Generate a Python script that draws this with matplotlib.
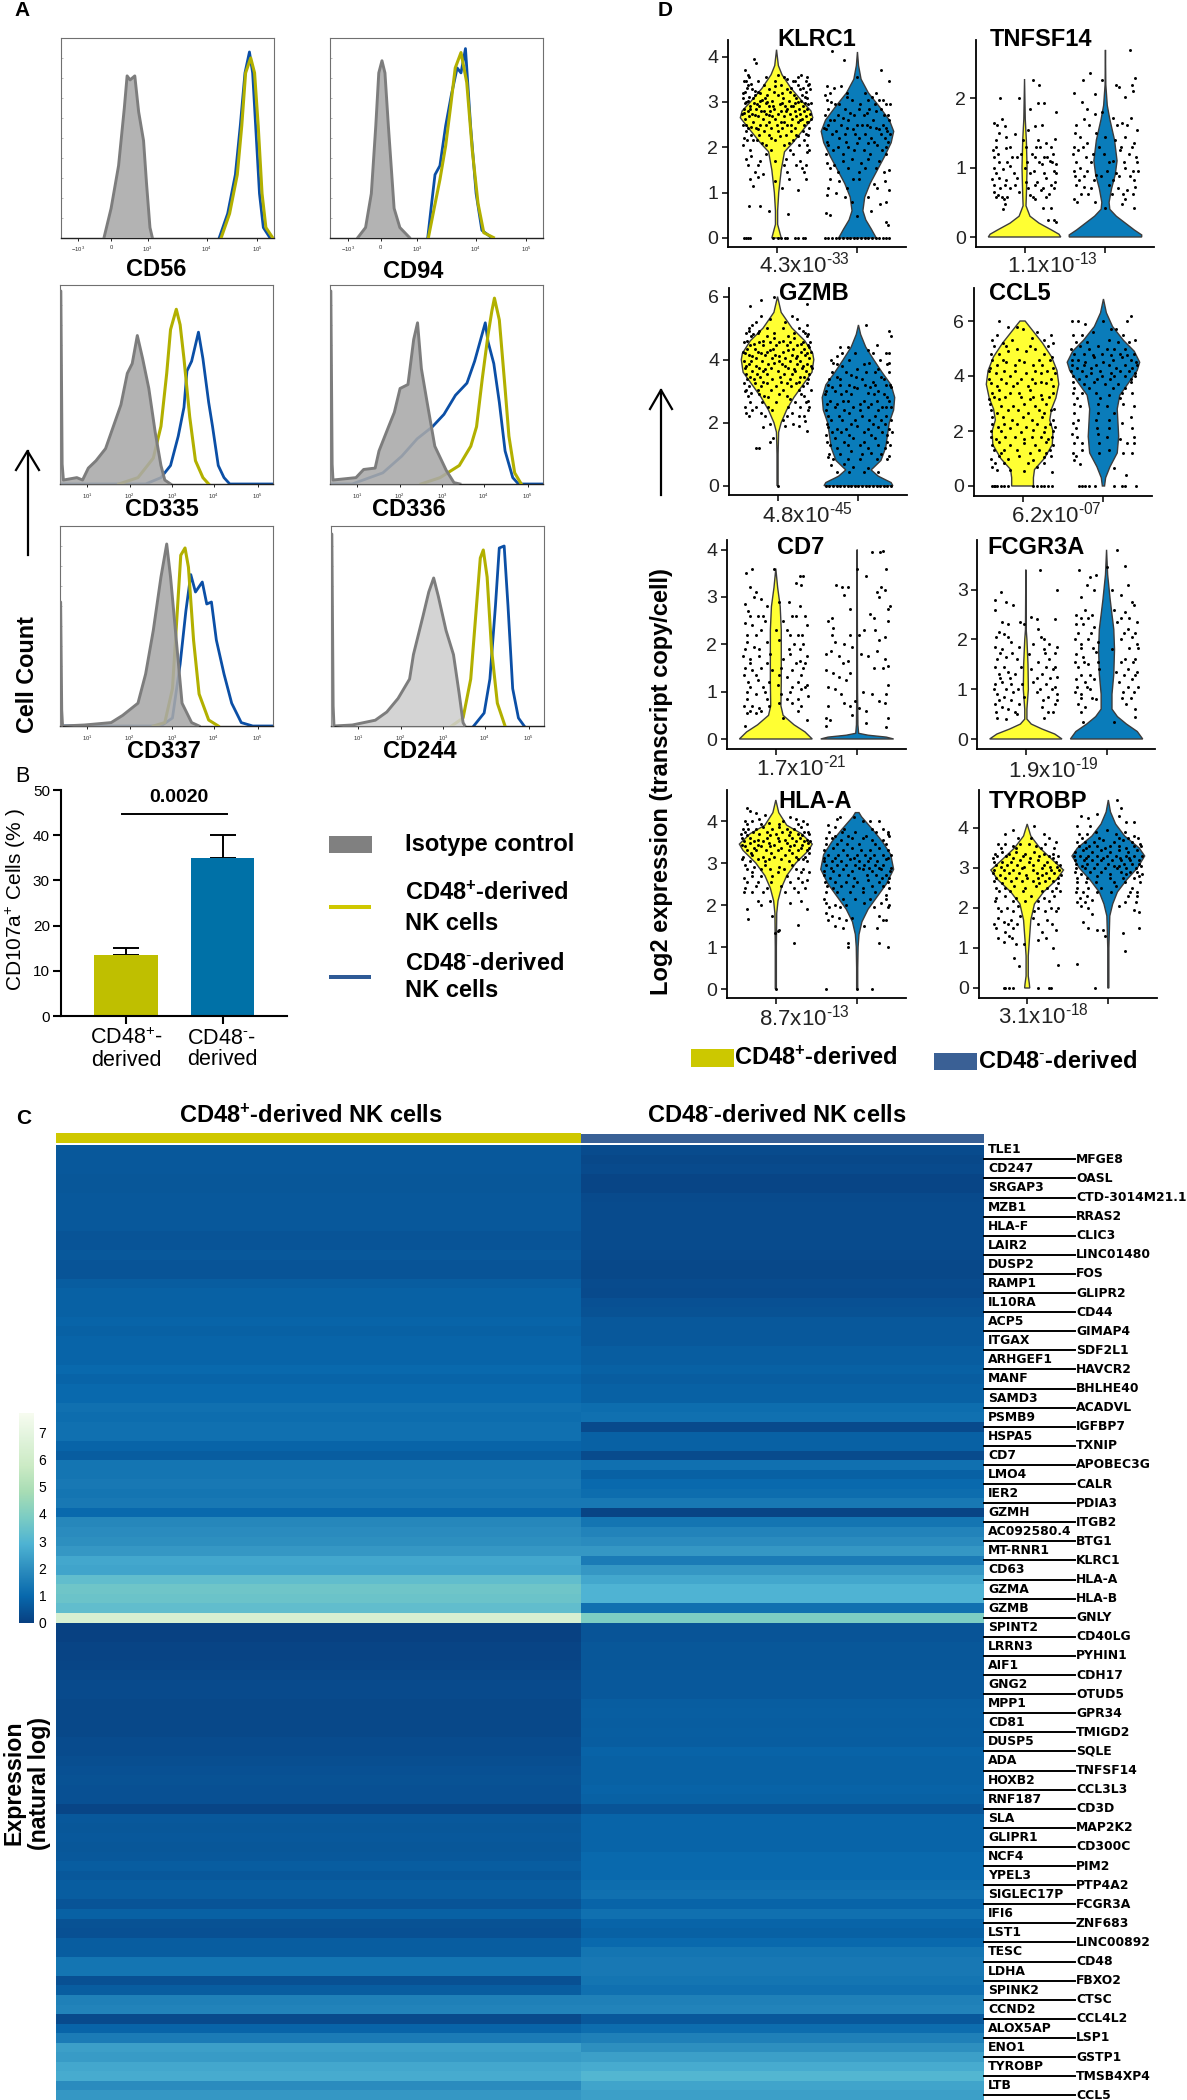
import numpy as np
import matplotlib
matplotlib.use("Agg")
import matplotlib.pyplot as plt
from matplotlib.lines import Line2D
from matplotlib.patches import Rectangle

plt.rcParams['font.family'] = ['Liberation Sans', 'DejaVu Sans']
plt.rcParams['mathtext.fontset'] = 'custom'
plt.rcParams['mathtext.rm'] = 'Liberation Sans'
plt.rcParams['mathtext.bf'] = 'Liberation Sans:bold'
plt.rcParams['mathtext.default'] = 'regular'

# ---------------- Panel A: flow histograms (channel, % of frame height) ----------------
CD56_gray = ([204,237,272,299,312,326,348,366,389,403,419,430],[0,14.6,36,65,81,79,81,63,48.5,27,5,0])
CD56_yel = ([753,792,828,849,867,891,909,926,944,962,993],[0,12,31.5,56,82.5,90,82.5,56,22,5,0])
CD56_blu = ([744,783,819,842,864,885,900,914,932,950,980],[0,12,31.5,56,82.5,93,82.5,56,22,5,0])
CD94_gray = ([131,167,194,215,229,244,258,274,301,328,373],[0,5,22,56,82.5,88.6,82.5,56,14.6,5,0])
CD94_yel = ([462,489,516,543,566,588,615,642,668,695,722,767],[0,14.6,29,46,65.5,85,92.7,77.7,43.7,17,2.4,0])
CD94_blu = ([459,477,493,516,543,570,597,615,636,660,686,713,758],[0,17,31.5,36,56,71.6,85,82.5,94.7,56,22,3.6,0])
CD335_gray = ([0,4,10,16,79,106,133,169,214,250,286,316,339,363,388,417,447,474,492,519],
              [97,97,10,2,3.2,2,8,11.7,17.8,28.8,39.8,55.6,60.5,74.6,63,48,26,9.3,2,0])
CD335_yel = ([276,366,438,474,501,519,546,564,582,609,636,671,698],[0,3.2,13,29,55.6,77.6,87.8,80,63,33.7,11.7,3.2,0])
CD335_blu = ([0,402,474,519,555,582,596,618,650,671,698,716,743,770,797,1000],[0,0,3.2,9.3,24,38.5,56.8,61.7,76.3,63,41,29,9.3,3.2,0,0])
CD336_gray = ([0,4,10,14,122,158,212,230,275,302,329,366,393,411,429,456,492,546,582,610],
              [97,97,10,2,3.2,7.3,8,16.6,28.8,36,48,50,72.7,81,58,41,19,6.8,0.7,0])
CD336_yel = ([427,517,607,661,688,715,742,760,772,795,822,840,867,898],[0,3.2,9.3,19,28.8,53,75,87,93.4,82.4,48,24,5.6,0])
CD336_blu = ([0,104,248,337,409,481,535,589,643,679,729,742,769,795,822,858,885,1000],
             [0,0,5.6,14,22.7,28.8,35,44.6,50.7,61.7,81,71.5,60.5,41,16.6,3.2,0,0])
CD337_gray = ([0,3,8,12,115,240,294,366,402,438,474,501,519,546,573,618,653],
              [62,62,8,0,0.5,1.7,5.3,11.4,26,47.8,74.5,91,74.5,43,11.4,1.7,0])
CD337_yel = ([438,492,528,555,567,587,603,627,653,698,743],[0,1.7,18.7,64.8,85.4,89,79.4,43,16,3,0])
CD337_blu = ([0,474,528,564,591,614,636,668,689,711,734,770,806,851,905,1000],[0,0,4,31,57.5,75.7,67,72,61,62,43,26,11.4,1.7,0,0])
CD244_gray = ([0,4,10,14,100,208,262,315,369,387,432,459,482,504,540,575,602,620,629],
              [96,96,10,0,0.5,2.9,7,13.8,23.5,35.7,55,67,74,64.8,47.8,35.7,16,1.7,0])
CD244_yel = ([566,620,656,683,701,715,733,754,781,817],[0,4,23.5,60,84,88,74.5,38,11.4,0])
CD244_blu = ([670,719,746,772,790,813,831,853,880,907],[0,6.5,23.5,60,89,90,60,18.7,4,0])
BIEX_TICKS = [83, 238, 408, 684, 922]
BIEX_LABELS = ['$-10^{3}$', '0', '$10^{3}$', '$10^{4}$', '$10^{5}$']
LOG_TICKS = [129, 327, 528, 722, 928]
LOG_LABELS = ['$10^{1}$', '$10^{2}$', '$10^{3}$', '$10^{4}$', '$10^{5}$']

# ---------------- Panel B ----------------
BAR_LABELS = ['CD48$^{+}$-\nderived', 'CD48$^{\\text{-}}$-\nderived']
BAR_MEAN = [13.4, 35.0]
BAR_UPPER = [15.0, 40.0]
BAR_P = '0.0020'

# ---------------- Panel C: mean expression per gene row, per group ----------------
GENES_LEFT = ['TLE1','CD247','SRGAP3','MZB1','HLA-F','LAIR2','DUSP2','RAMP1','IL10RA','ACP5','ITGAX','ARHGEF1','MANF','SAMD3','PSMB9','HSPA5','CD7','LMO4','IER2','GZMH','AC092580.4','MT-RNR1','CD63','GZMA','GZMB',
              'SPINT2','LRRN3','AIF1','GNG2','MPP1','CD81','DUSP5','ADA','HOXB2','RNF187','SLA','GLIPR1','NCF4','YPEL3','SIGLEC17P','IFI6','LST1','TESC','LDHA','SPINK2','CCND2','ALOX5AP','ENO1','TYROBP','LTB']
GENES_RIGHT = ['MFGE8','OASL','CTD-3014M21.1','RRAS2','CLIC3','LINC01480','FOS','GLIPR2','CD44','GIMAP4','SDF2L1','HAVCR2','BHLHE40','ACADVL','IGFBP7','TXNIP','APOBEC3G','CALR','PDIA3','ITGB2','BTG1','KLRC1','HLA-A','HLA-B','GNLY',
               'CD40LG','PYHIN1','CDH17','OTUD5','GPR34','TMIGD2','SQLE','TNFSF14','CCL3L3','CD3D','MAP2K2','CD300C','PIM2','PTP4A2','FCGR3A','ZNF683','LINC00892','CD48','FBXO2','CTSC','CCL4L2','LSP1','GSTP1','TMSB4XP4','CCL5']
EXPR_POS = [.6,.6,.6,.55,.55,.6,.6,.6,.6,.5,.5,.6,.5,.5,.7,.8,.8,.8,.9,.8,.9,.9,.9,1,.9,1,1,1.2,1.1,1.2,1.2,.9,.7,1.3,1.3,1.4,1.3,1.4,1.0,1.8,1.9,2.0,2.2,2.6,2.5,3.3,3.6,3.5,3.3,6.3,
            .05,.05,.1,.1,.15,.2,.25,.25,.2,.2,.2,.2,.3,.3,.35,.4,.45,.4,.4,.15,.6,.55,.6,.55,.6,.7,.6,.7,.7,.5,.8,.45,.4,.7,.7,1.3,1.3,.4,.7,1.6,1.7,.25,.9,1.5,2.4,2.3,2.6,2.7,1.9,2.2]
EXPR_NEG = [.3,.2,.25,.15,.15,.25,.3,.3,.3,.3,.3,.25,.2,.2,.3,.25,.4,.45,.6,.6,.6,.7,.7,.8,.7,.8,.8,1.1,1.2,.25,.8,.8,.3,1.2,.8,1.0,1.1,1.4,.1,1.3,1.7,1.9,2.2,1.5,2.2,2.6,2.9,2.9,1.2,3.9,
            .5,.5,.55,.55,.55,.6,.6,.6,.7,.75,.7,.75,.7,.85,.8,.8,.8,.85,.8,.5,.9,.9,.9,.9,1,1,1,1.1,1.2,.9,1.2,.9,.8,1.0,1.3,1.4,1.4,1.3,1.2,1.6,1.7,.6,1.1,1.6,2.0,2.4,2.7,3.0,2.5,2.4]
GROUP_CELLS = [525, 403]
GROUP_NAMES = ['CD48$^{+}$-derived NK cells', 'CD48$^{\\text{-}}$-derived NK cells']
CBAR_TICKS = [0,1,2,3,4,5,6,7]

# ---------------- Panel D: violin outlines (expression, relative half width) ----------------
V_KLRC1_P = ([4.15,3.8,3.6,3.3,3.0,2.8,2.65,2.4,2.1,1.9,1.5,1.0,.6,.3,.15,0],[0,.05,.15,.4,.72,.95,1,.75,.45,.22,.13,.06,.03,.03,.08,.13])
V_KLRC1_N = ([4.1,3.8,3.5,3.2,2.9,2.6,2.35,2.1,1.8,1.5,1.2,.9,.6,.4,.2,0],[0,.03,.1,.3,.6,.88,1,.93,.75,.55,.35,.2,.15,.23,.38,.52])
V_TNFSF14_P = ([2.28,1.7,1.4,1.0,.6,.45,.3,.2,.1,.04,0],[0,.02,.05,.07,.05,.04,.15,.4,.75,.95,1])
V_TNFSF14_N = ([2.7,2.2,1.9,1.7,1.4,1.1,.9,.7,.5,.4,.3,.2,.1,.03,0],[0,.01,.05,.12,.25,.32,.27,.17,.1,.12,.3,.55,.8,1,1])
V_GZMB_P = ([6,5.5,5,4.6,4.2,4,3.6,3.2,2.8,2.4,2,1.7,1,0],[0,.1,.4,.75,.97,1,.95,.7,.45,.25,.1,.03,.015,.015])
V_GZMB_N = ([5.1,4.8,4.4,4,3.6,3.2,2.8,2.4,2,1.6,1.2,.8,.5,.3,.1,0],[0,.06,.2,.42,.65,.9,1,.97,.85,.8,.75,.62,.35,.55,.9,.95])
V_CCL5_P = ([6,5.7,5.2,4.7,4.2,3.7,3.2,2.8,2.4,2,1.5,1,.6,.3,0],[.07,.25,.55,.8,.95,1,.92,.8,.75,.84,.82,.6,.33,.3,.3])
V_CCL5_N = ([6.8,6.3,5.8,5.3,4.9,4.5,4.2,3.8,3.3,2.8,2.3,1.8,1.2,.7,.3,0],[0,.08,.25,.55,.85,1,.93,.72,.45,.38,.4,.42,.38,.18,.06,.03])
V_CD7_P = ([3.6,3.2,2.8,2.3,1.8,1.2,.7,.5,.3,.15,0],[0,.05,.12,.15,.15,.15,.14,.2,.5,.8,1])
V_CD7_N = ([4,1,.3,.12,.08,.04,0],[0,.01,.02,.04,.3,.8,1])
V_FCGR3A_P = ([3.4,2.2,2,1.5,1,.6,.4,.3,.2,.1,0],[0,.01,.03,.06,.07,.03,.03,.15,.45,.8,1])
V_FCGR3A_N = ([3.8,3.3,2.8,2.2,1.8,1.3,.9,.6,.45,.3,.15,0],[0,.03,.1,.2,.22,.2,.15,.15,.3,.55,.85,1])
V_HLAA_P = ([4.5,4.2,3.9,3.7,3.45,3.3,3,2.7,2.4,2.1,1.8,1,0],[0,.08,.3,.7,1,.9,.55,.3,.15,.06,.025,.015,.015])
V_HLAA_N = ([4.2,4.1,3.8,3.5,3.2,2.85,2.5,2.2,1.9,1.6,1.3,1,.5,0],[.05,.12,.42,.7,.92,1,.8,.55,.3,.13,.05,.025,.015,.015])
V_TYROBP_P = ([4.1,3.8,3.5,3.2,2.95,2.7,2.4,2.1,1.7,1.2,.8,.3,.1,0],[0,.1,.35,.7,1,.8,.45,.2,.1,.06,.03,.03,.06,.07])
V_TYROBP_N = ([4.7,4.4,4.1,3.8,3.5,3.3,3,2.7,2.4,2.1,1.8,1,0],[0,.06,.2,.45,.85,1,.8,.5,.25,.12,.04,.015,.015])

# Cell dots: (horizontal offset in % of max half width, expression)
P_KLRC1_P = [(-90,0),(-85,0),(-78,0),(-72,0),(-10,0),(5,0),(12,0),(22,0),(30,0),(50,0),(58,0),(72,0),(78,0),(-62,3.95),(-56,3.85),(-88,3.7),(-80,3.6),(-90,3.45),(-70,3.4),(-82,3.3),(-60,3.25),(-92,3.2),(-45,3.2),(-75,3.1),(-40,3.05),(-85,3.0),(-55,2.95),(-25,3.0),(-72,2.85),(-35,2.8),(-10,2.9),(-90,2.75),(-60,2.7),(-20,2.7),(10,2.95),(25,2.8),(45,2.9),(60,3.0),(72,3.3),(85,3.55),(68,3.6),(50,3.45),(40,3.3),(78,3.1),(90,3.4),(88,2.95),(30,3.5),(5,3.6),(-5,3.35),(15,3.2),(-30,2.5),(-70,2.45),(-50,2.4),(-85,2.5),(0,2.5),(20,2.55),(40,2.5),(65,2.6),(85,2.55),(-90,2.2),(-65,2.15),(-40,2.1),(-15,2.2),(10,2.25),(35,2.1),(60,2.25),(80,2.3),(-85,1.75),(-70,1.8),(-45,1.7),(-30,1.85),(-5,1.7),(25,1.75),(45,1.85),(65,1.7),(85,1.9),(-72,1.3),(-65,1.15),(-50,1.35),(-38,1.4),(15,1.1),(35,1.3),(60,1.05),(82,1.3),(70,1.55),(-3,1.25),(-75,.7),(-45,.7),(-22,.6),(32,.53)]
P_KLRC1_N = [(-90,0),(-80,0),(-70,0),(-60,0),(-50,0),(-40,0),(-30,0),(-20,0),(-10,0),(0,0),(10,0),(20,0),(30,0),(40,0),(50,0),(60,0),(70,0),(80,0),(88,0),(-70,4.12),(-36,3.93),(64,3.7),(88,3.45),(-85,3.35),(-65,3.3),(-45,3.35),(-90,3.15),(-72,3.0),(-50,2.95),(-28,3.1),(0,3.55),(20,3.2),(40,3.1),(60,3.05),(78,2.95),(85,2.7),(50,2.8),(25,2.75),(5,2.85),(-20,2.75),(-40,2.65),(-75,2.6),(-88,2.4),(-60,2.35),(-35,2.3),(-12,2.4),(12,2.5),(35,2.45),(60,2.4),(82,2.35),(-82,2.05),(-55,2.0),(-25,2.0),(0,2.1),(28,2.1),(55,2.05),(80,2.0),(-85,1.65),(-65,1.6),(-40,1.7),(-15,1.75),(10,1.65),(30,1.75),(60,1.7),(86,1.5),(-75,1.3),(-50,1.25),(-12,1.3),(5,1.3),(45,1.2),(75,1.25),(88,1.05),(-85,.95),(-60,1.0),(-35,.9),(-15,.8),(30,.9),(62,.75),(80,.8),(-88,.55),(-75,.5),(0,.48),(37,.6),(78,.35),(84,.28)]
P_TNFSF14_P = [(-69,2.0),(-14,2.0),(22,2.27),(41,2.2),(37,1.93),(54,1.93),(15,1.85),(87,1.8),(-85,1.65),(-75,1.62),(-62,1.7),(-55,1.6),(-70,1.5),(-50,1.45),(-80,1.4),(-25,1.48),(-5,1.4),(10,1.55),(30,1.6),(48,1.62),(38,1.4),(60,1.35),(85,1.42),(-88,1.25),(-72,1.2),(-52,1.28),(-35,1.15),(-10,1.2),(20,1.2),(42,1.3),(55,1.15),(78,1.2),(88,1.05),(-85,1.0),(-60,.98),(-40,1.02),(0,1.0),(25,.95),(48,1.05),(70,1.1),(82,.95),(-90,.83),(-70,.85),(-50,.82),(-20,.85),(5,.8),(35,.8),(60,.85),(85,.8),(-85,.65),(-72,.6),(-58,.55),(-15,.65),(15,.6),(45,.68),(68,.62),(-60,.4),(-55,.48),(30,.55),(50,.42),(72,.42),(82,.25),(88,.22),(65,.24)]
P_TNFSF14_N = [(69,2.7),(-43,2.37),(-62,2.27),(-10,2.27),(-86,2.08),(-29,2.06),(29,2.2),(38,2.17),(72,2.2),(82,2.29),(53,2.02),(77,2.1),(-65,1.95),(-50,1.85),(-60,1.7),(-30,1.78),(-10,1.8),(20,1.72),(45,1.65),(70,1.72),(88,1.55),(-85,1.5),(-70,1.45),(-50,1.35),(-25,1.5),(0,1.45),(25,1.4),(55,1.45),(80,1.35),(-90,1.2),(-75,1.25),(-55,1.15),(-35,1.2),(-5,1.2),(20,1.1),(40,1.25),(65,1.2),(85,1.15),(-88,.95),(-70,1),(-50,.95),(-25,.9),(5,.95),(30,.92),(55,1),(75,.95),(90,.95),(-80,.75),(-60,.72),(-40,.7),(10,.75),(35,.7),(60,.68),(82,.72),(-88,.55),(-78,.5),(-30,.5),(0,.42),(45,.48),(55,.55),(80,.42)]
P_GZMB_P = [(-75,5.7),(-45,5.9),(-10,6),(82,5.75),(60,5.95),(-70,5.1),(-68,4.8),(-60,5.2),(-45,5.4),(-80,4.9),(-50,4.9),(-20,5.3),(20,5.2),(40,5.4),(55,5.3),(80,5.1),(85,4.8),(70,4.9),(-85,4.6),(-65,4.5),(-40,4.6),(-10,4.7),(15,4.6),(45,4.7),(65,4.5),(88,4.4),(-90,4.2),(-70,4.1),(-45,4.2),(-20,4.3),(5,4.1),(30,4.3),(55,4.1),(80,4.2),(-88,3.8),(-60,3.8),(-35,3.7),(-10,3.9),(20,3.8),(45,3.7),(70,3.8),(92,3.8),(-85,3.4),(-65,3.4),(-40,3.3),(-15,3.4),(10,3.3),(35,3.4),(60,3.3),(85,3.4),(-90,3),(-72,2.95),(-50,2.9),(-25,2.8),(5,2.9),(35,2.75),(65,2.9),(85,2.7),(-88,2.3),(-70,2.4),(-45,2.3),(-15,2.4),(15,2.1),(40,2.3),(60,2.2),(85,2.4),(75,2.05),(-40,1.85),(-20,1.95),(20,1.9),(42,1.95),(60,1.9),(82,1.75),(-22,1.4),(-12,1.5),(-60,1.2),(-52,1.2),(0,0)]
P_GZMB_N = [(20,5.1),(85,4.9),(90,4.75),(-50,4.4),(-30,4.4),(-60,4.1),(-10,4.2),(25,4.3),(50,4.45),(75,4.2),(85,3.9),(-70,3.9),(-45,3.8),(-5,3.7),(30,3.9),(55,3.7),(-80,3.4),(-50,3.4),(-20,3.5),(10,3.4),(40,3.3),(70,3.4),(88,3.2),(-90,3.0),(-65,3),(-35,3),(-5,3.1),(25,2.95),(55,3),(80,2.8),(-88,2.6),(-60,2.6),(-30,2.7),(5,2.6),(35,2.6),(65,2.5),(90,2.5),(-85,2.2),(-55,2.2),(-25,2.3),(10,2.2),(45,2.2),(75,2.2),(-85,1.85),(-60,1.8),(-35,1.8),(-5,1.9),(25,1.8),(55,1.85),(85,1.8),(-88,1.4),(-65,1.5),(-40,1.4),(-15,1.5),(15,1.4),(45,1.5),(80,1.4),(-80,1.0),(-50,1.0),(-20,1.1),(10,1),(35,1.05),(62,1),(85,.95),(-75,.65),(-40,.7),(-15,.6),(25,.55),(-85,.9),(-90,0),(-80,0),(-70,0),(-60,0),(-50,0),(-40,0),(-30,0),(-20,0),(-10,0),(0,0),(10,0),(20,0),(30,0),(40,0),(50,0),(60,0),(70,0),(80,0),(90,0)]
P_CCL5_P = [(-85,0),(-80,0),(-75,0),(-70,0),(-60,0),(-50,0),(-40,0),(30,0),(40,0),(50,0),(60,0),(70,0),(80,0),(-65,6),(-40,5.8),(-15,5.8),(-85,5.3),(-70,5.5),(-55,5.2),(-30,5.3),(0,5.7),(25,5.4),(40,5.6),(60,5.3),(78,5.5),(85,5.2),(-88,4.8),(-65,4.8),(-40,4.9),(-15,5),(10,4.9),(35,5),(60,4.8),(80,4.7),(-90,4.3),(-70,4.4),(-45,4.5),(-20,4.4),(5,4.5),(30,4.4),(55,4.4),(85,4.3),(-92,3.9),(-60,3.9),(-35,4),(-5,3.9),(25,3.9),(50,3.8),(78,3.9),(-85,3.4),(-65,3.5),(-35,3.4),(-10,3.4),(20,3.5),(50,3.3),(85,3.4),(-90,3),(-60,2.9),(-25,2.9),(5,3),(35,2.9),(65,3),(88,2.8),(-85,2.5),(-55,2.5),(-30,2.4),(0,2.5),(25,2.4),(55,2.5),(85,2.4),(-88,2),(-60,2),(-35,2.1),(-5,1.95),(30,2.05),(60,1.95),(85,2),(-85,1.5),(-65,1.6),(-35,1.5),(5,1.55),(35,1.5),(65,1.6),(85,1.5),(-88,1),(-65,1.1),(-40,1),(-10,1.1),(30,.95),(60,1.05),(78,1.1),(-85,.7),(-70,.6),(-35,.6),(5,.55),(40,.7),(82,.5)]
P_CCL5_N = [(-88,6.0),(-70,6),(-50,5.9),(0,6),(22,5.7),(65,6),(75,6.2),(-85,5.5),(-60,5.5),(-30,5.6),(15,5.3),(35,5.7),(55,5.5),(-90,5),(-65,5.1),(-40,5),(-15,5.1),(10,5),(30,5),(60,5),(88,5.3),(-88,4.6),(-70,4.6),(-50,4.5),(-25,4.7),(0,4.5),(25,4.6),(50,4.7),(75,4.6),(90,4.5),(-90,4.2),(-60,4.2),(-35,4.1),(-10,4.2),(20,4.1),(45,4.2),(70,4.2),(88,4.1),(-85,3.8),(-55,3.7),(-25,3.8),(5,3.7),(40,3.7),(75,3.8),(-85,3.4),(-60,3.4),(-20,3.4),(15,3.3),(50,3.4),(80,3.4),(-80,3),(-65,2.9),(-15,3),(10,2.9),(55,3),(85,2.9),(-85,2.3),(-70,2.4),(-20,2.4),(15,2.4),(50,2.3),(75,2.5),(-88,1.9),(-72,1.8),(-15,1.9),(10,1.8),(45,1.7),(85,1.8),(-85,1.2),(-75,1.1),(-60,1.3),(-12,1.2),(15,1.3),(55,1.2),(78,1.2),(-82,.95),(-65,.8),(30,.65),(62,.4),(-68,0),(-60,0),(-50,0),(-40,0),(-22,0),(30,0),(50,0),(60,0),(90,0)]
P_CD7_P = [(-82,3.5),(-65,3.58),(-5,3.6),(75,3.45),(65,3.45),(-70,3.2),(-55,3.1),(70,3.25),(55,3.3),(-60,3.0),(-40,2.95),(-85,2.85),(-25,2.8),(10,2.9),(35,2.9),(65,2.8),(-75,2.7),(-50,2.6),(-85,2.45),(-65,2.4),(-30,2.5),(20,2.5),(45,2.6),(80,2.6),(-55,2.2),(-40,2.3),(0,2.3),(30,2.3),(60,2.2),(85,2.4),(-80,2.05),(-60,1.95),(-25,2.05),(10,2.1),(50,2),(75,2),(-90,1.75),(-70,1.7),(-45,1.75),(-15,1.8),(20,1.7),(40,1.8),(65,1.65),(85,1.75),(-85,1.5),(-65,1.45),(-40,1.5),(-10,1.45),(15,1.5),(45,1.45),(75,1.5),(-75,1.2),(-50,1.25),(-20,1.2),(5,1.15),(30,1.3),(60,1.2),(85,1.15),(-80,1.0),(-55,.95),(-30,1),(15,.95),(40,1),(70,1.05),(88,.9),(-88,.7),(-65,.7),(-45,.65),(-20,.7),(10,.75),(45,.75),(70,.7),(-80,.55),(-55,.55),(20,.45),(85,.4),(-85,.28)]
P_CD7_N = [(40,3.95),(62,3.95),(72,3.98),(0,3.6),(80,3.6),(25,3.45),(-57,3.25),(-42,3.2),(-35,3.05),(-25,3.2),(-20,2.75),(55,3.1),(65,3.2),(75,3.15),(60,3),(90,2.8),(85,2.75),(-80,2.5),(-70,2.55),(-65,2.35),(35,2.65),(45,2.55),(85,2.5),(-35,2.0),(-20,2.2),(-70,2.2),(-15,1.95),(5,2.2),(20,2.3),(50,2.3),(60,2.1),(75,2.15),(-60,2.05),(-85,1.8),(-72,1.85),(-50,1.75),(-40,1.6),(-25,1.65),(10,1.8),(30,1.75),(55,1.85),(75,1.7),(85,1.55),(-85,1.45),(-65,1.4),(-50,1.3),(-30,1.25),(-20,1.4),(45,1.5),(70,1.5),(-80,1.1),(-60,1.05),(-45,.95),(15,1.0),(40,.95),(85,1.15),(80,.95),(-35,.75),(-20,.7),(-5,.8),(5,.65),(25,.6),(60,.8),(-85,.45),(-80,.7),(-75,.4),(-15,.5),(25,.33),(75,.75),(85,.45),(80,.25),(-85,.28)]
P_FCGR3A_P = [(40,3.4),(-70,2.95),(-85,2.8),(-55,2.75),(-35,2.7),(-85,2.6),(85,3),(15,2.45),(30,2.4),(-65,2.35),(-50,2.3),(-15,2.35),(-5,2.3),(80,2.4),(-75,2.15),(-60,2.1),(35,2.2),(50,2),(-85,1.85),(-65,1.8),(-40,1.95),(-20,1.85),(20,1.9),(50,1.8),(65,1.9),(85,1.85),(-80,1.6),(-55,1.65),(-25,1.6),(10,1.7),(35,1.55),(65,1.6),(-75,1.3),(-50,1.35),(-30,1.3),(15,1.4),(45,1.3),(75,1.4),(85,1.25),(-85,1.1),(-65,1.15),(-40,1.1),(-10,1.1),(20,1.15),(55,1.1),(80,1.05),(-80,.9),(-60,.85),(-35,.95),(-5,.85),(30,.95),(60,.85),(85,.9),(-85,.7),(-65,.65),(-50,.6),(-20,.7),(45,.65),(75,.55),(80,.7),(-80,.42),(-55,.4),(50,.42),(-25,.5)]
P_FCGR3A_N = [(30,3.8),(-75,3.4),(0,3.45),(50,3.47),(-30,3.3),(-45,3.25),(-55,3.1),(-35,3),(-70,2.85),(15,3),(40,2.9),(60,3.1),(70,2.75),(-85,2.5),(-60,2.6),(-40,2.5),(20,2.6),(50,2.55),(75,2.7),(85,2.35),(-85,2.3),(-65,2.3),(-35,2.25),(30,2.35),(60,2.2),(-88,2),(-70,1.9),(-50,2),(-25,1.95),(40,2),(70,2.05),(85,1.9),(-85,1.7),(-65,1.65),(-30,1.75),(15,1.8),(50,1.6),(80,1.6),(-80,1.45),(-50,1.5),(-20,1.4),(25,1.35),(60,1.4),(85,1.35),(-85,1.2),(-60,1.15),(-35,1.2),(35,1.15),(70,1.2),(-88,.95),(-70,.9),(-45,1.0),(45,.95),(75,.95),(-80,.7),(-60,.65),(-30,.8),(55,.7),(80,.6),(-70,.55),(20,.35),(-65,.35),(80,.45)]
P_HLAA_P = [(-80,4.3),(-70,4.25),(-55,4.2),(-30,4.15),(-85,4.0),(-65,4),(-45,4.05),(-20,3.95),(20,4),(40,4.1),(55,4.05),(75,4.0),(-90,3.8),(-75,3.8),(-55,3.8),(-35,3.85),(-10,3.8),(10,3.85),(30,3.8),(50,3.8),(70,3.85),(88,3.75),(-92,3.6),(-70,3.6),(-50,3.55),(-25,3.6),(5,3.6),(25,3.55),(45,3.6),(65,3.6),(85,3.55),(-85,3.4),(-60,3.35),(-40,3.4),(-15,3.4),(15,3.35),(40,3.4),(70,3.35),(90,3.35),(-90,3.15),(-65,3.2),(-35,3.15),(-5,3.15),(25,3.2),(55,3.15),(80,3.15),(-85,2.95),(-60,2.9),(-30,2.95),(10,2.9),(45,2.95),(75,2.85),(-88,2.65),(-65,2.7),(-40,2.7),(-10,2.7),(30,2.7),(60,2.65),(85,2.6),(-85,2.4),(-55,2.45),(-25,2.4),(15,2.45),(50,2.4),(80,2.4),(-50,2.1),(-42,2.0),(-15,2.1),(40,2.05),(70,2.1),(-78,1.9),(-75,1.67),(-10,1.75),(85,1.9),(60,1.52),(10,1.4),(5,1.37),(-2,1.33),(50,1.1),(0,0)]
P_HLAA_N = [(-55,4.05),(-48,4.1),(15,4.0),(35,4),(60,4),(-80,3.9),(-60,3.85),(-35,3.8),(-10,4.1),(40,3.8),(70,3.8),(85,3.7),(-85,3.6),(-70,3.6),(-45,3.55),(-15,3.6),(15,3.6),(40,3.55),(70,3.55),(-90,3.3),(-65,3.35),(-40,3.3),(-15,3.35),(10,3.3),(35,3.3),(60,3.35),(85,3.3),(-92,3.05),(-70,3.05),(-45,3.05),(-20,3.1),(5,3.05),(30,3.05),(55,3.05),(80,3.1),(-90,2.8),(-65,2.8),(-40,2.85),(-15,2.8),(15,2.85),(40,2.8),(65,2.85),(90,2.8),(-88,2.55),(-60,2.55),(-30,2.55),(0,2.55),(30,2.6),(60,2.55),(85,2.55),(-85,2.3),(-55,2.3),(-20,2.3),(15,2.3),(50,2.3),(80,2.25),(-85,2.05),(-60,2.0),(-30,2),(20,2.05),(65,2.05),(88,2),(-85,1.8),(-70,1.75),(-50,1.7),(-15,1.7),(60,1.75),(80,1.65),(-60,1.5),(-40,1.45),(20,1.5),(55,1.45),(-25,1.1),(60,1.1),(85,1),(-25,1),(-85,0),(40,0),(0,0)]
P_TYROBP_P = [(20,4.05),(-60,3.85),(-40,3.95),(-25,3.75),(10,3.75),(45,3.85),(60,3.75),(-80,3.6),(-60,3.6),(-40,3.55),(-20,3.6),(5,3.6),(25,3.55),(50,3.6),(80,3.65),(-88,3.35),(-70,3.4),(-50,3.35),(-30,3.4),(-5,3.35),(20,3.4),(45,3.35),(70,3.35),(-92,3.15),(-70,3.15),(-45,3.15),(-20,3.2),(5,3.15),(30,3.2),(55,3.15),(80,3.15),(-90,2.95),(-65,2.95),(-40,2.95),(-15,3),(15,2.95),(40,3),(65,2.95),(88,2.95),(-85,2.75),(-60,2.75),(-30,2.75),(0,2.75),(30,2.75),(60,2.75),(85,2.75),(-85,2.5),(-60,2.5),(-35,2.55),(-5,2.5),(25,2.55),(55,2.5),(80,2.5),(-85,2.25),(-60,2.3),(-30,2.25),(10,2.3),(45,2.25),(75,2.3),(-80,2),(-55,2),(-25,2.05),(30,2.0),(65,2),(85,2),(-80,1.75),(-65,1.65),(-45,1.7),(-20,1.8),(15,1.75),(55,1.7),(-85,1.5),(-60,1.4),(-40,1.5),(40,1.4),(78,1.45),(-65,1.15),(-50,1.3),(-30,1.1),(-10,1.1),(30,1.2),(70,1.0),(-35,.75),(-22,.55),(85,.58),(-65,0),(-60,0),(-50,0),(-38,0),(30,0),(60,0),(65,0)]
P_TYROBP_N = [(25,4.7),(35,4.5),(-85,4.05),(-75,4.3),(-55,4.25),(-30,4.35),(-50,4.05),(30,4.3),(50,4.15),(70,4.15),(-80,3.85),(-60,3.85),(-35,3.9),(-5,3.95),(20,3.85),(45,3.9),(70,3.8),(-85,3.65),(-65,3.65),(-40,3.65),(-15,3.7),(15,3.65),(40,3.7),(65,3.65),(88,3.6),(-92,3.4),(-70,3.45),(-45,3.4),(-20,3.45),(5,3.4),(30,3.45),(55,3.4),(80,3.45),(-92,3.2),(-68,3.2),(-45,3.2),(-20,3.2),(10,3.2),(35,3.2),(60,3.2),(85,3.2),(-88,3),(-65,3),(-40,3),(-10,3),(25,3),(50,3),(75,3),(-85,2.75),(-60,2.75),(-30,2.8),(5,2.75),(40,2.75),(70,2.75),(85,2.8),(-85,2.5),(-55,2.5),(-20,2.5),(20,2.55),(65,2.5),(-78,2.25),(-60,2.3),(-45,2.2),(55,2.3),(80,2.3),(-75,2.05),(-55,2.0),(-45,1.85),(30,2.05),(70,1.95),(85,1.9),(-70,1.65),(-55,1.5),(-30,1.45),(-15,1.45),(85,1.5),(40,1.38),(-10,1.3),(45,.92),(-87,.6),(-36,0)]

# More dots of the dense bands: {expression: [offsets in % of max half width]}
X_KLRC1_P = {3.55:[-75,-30,20,60],3.47:[-85,-50,-5,45,80],3.38:[-78,-35,12,58,86],3.28:[-68,-20,28,65,92],3.22:[-88,-52,-8,38,80],3.15:[-60,-25,5,48,70],3.08:[-92,-66,-32,18,55,84],3.02:[-78,-45,-12,35,68],2.97:[-88,-62,-30,15,52,78,95],2.9:[-72,-48,-20,22,40,72],2.85:[-90,-58,-8,30,62,85],2.8:[-80,-44,-18,12,50,76],2.74:[-95,-68,-30,5,36,66,92],2.68:[-75,-50,-12,20,55,82],2.62:[-88,-38,-3,42,70,94],2.56:[-65,-22,12,58,88],2.5:[-92,-45,30,75],2.43:[-78,-58,-15,15,52,90],2.35:[-85,-35,5,40,72],2.27:[-70,-48,-22,25,55,88],2.15:[-82,-55,-5,45,75],2.05:[-92,-30,20,62,85],1.95:[-72,-15,38,90],1.6:[-80,-50,20,55,80],1.45:[-60,30,75]}
X_KLRC1_N = {3.2:[-75,-30,50],3.05:[-85,-15,30,70],2.95:[-62,8,48,90],2.85:[-80,-35,32,65],2.7:[-90,-55,-10,18,72],2.6:[-65,-25,42,88],2.5:[-80,-45,-2,25,70],2.42:[-92,-28,50,78],2.3:[-70,-8,22,65,90],2.2:[-50,5,38,75],2.12:[-85,-32,45,84],1.95:[-68,-10,18,68],1.85:[-88,-40,35,78],1.55:[-75,-25,20,50],1.45:[-55,5,72],1.1:[-80,-30,55]}
X_TNFSF14_P = {1.3:[-78,-40,5,32,72],1.15:[-85,-20,30,62],1.08:[-70,-48,8,40,75],.92:[-78,-30,15,55,88],.75:[-85,-55,-25,28,72],.7:[-68,-40,10,50,80],.58:[-80,-62,-48,22,60]}
X_TNFSF14_N = {1.62:[-82,-45,32,60],1.3:[-88,-62,-18,42,72],1.08:[-80,-40,10,52,88],.88:[-85,-60,-12,38,68],.82:[-72,-32,22,80],.62:[-68,-48,18,48,75]}
X_GZMB_P = {5.0:[-78,-30,15,60],4.85:[-88,-55,-10,45,75],4.75:[-72,-30,30,80],4.55:[-92,-52,-22,5,35,70,90],4.45:[-75,-40,-5,25,55,85],4.35:[-85,-62,-12,42,72],4.25:[-95,-55,-30,15,65,92],4.15:[-80,-35,-8,40,75],4.05:[-60,-15,20,50,88],3.95:[-92,-72,-42,5,35,62],3.85:[-78,-25,12,55,82],3.75:[-90,-50,-18,30,68,95],3.65:[-70,-40,2,48,78],3.55:[-88,-58,-28,18,40,88],3.45:[-75,-48,8,62,74],3.25:[-92,-62,-30,25,50,80],3.15:[-78,-45,-5,38,70],3.05:[-88,-55,-18,15,60,92],2.85:[-82,-38,25,72],2.65:[-75,-42,-5,48,78],2.5:[-90,-60,-25,30,62,88],2.2:[-78,-35,25,72]}
X_GZMB_N = {4.2:[-45,40,85],4.0:[-75,-25,60],3.85:[15,-60,80],3.6:[-72,-35,20,45,85],3.45:[-60,-8,62],3.2:[-85,-52,-25,18,45,75],3.12:[-72,-12,32,90],2.9:[-92,-48,-20,42,70],2.7:[-78,-42,15,52,85],2.5:[-65,-15,25,75],2.4:[-90,-40,5,55],2.1:[-75,-45,-10,30,62,90],1.95:[-88,-20,40,72],1.7:[-72,-48,15,65,92],1.6:[-90,-25,35,78],1.3:[-78,-30,5,55,88],1.2:[-60,25,72],.85:[-70,-30,5,50,78],.45:[-60,-25,15,55]}
X_CCL5_P = {5.1:[-80,-45,20,70],4.6:[-85,-55,-10,45,75],4.2:[-92,-50,-20,35,68],4.1:[-72,10,52,90],3.75:[-88,-45,-15,35,65],3.65:[-70,-25,15,85],3.25:[-80,-48,-5,30,72],3.15:[-92,-65,20,55],2.75:[-88,-40,-12,45,78],2.65:[-70,15,60],2.25:[-85,-50,-15,40,75],2.15:[-68,10,62,90],1.8:[-88,-48,-20,25,50,80],1.7:[-72,5,70],1.3:[-80,-50,-15,45,75],1.2:[-60,20,65],.85:[-75,-50,15,60]}
X_CCL5_N = {5.25:[-75,-45,40,70],4.8:[-80,-55,-5,45,85],4.75:[-30,20,65],4.4:[-88,-55,-20,15,60,92],4.3:[-72,-35,35,78],4.0:[-85,-48,-5,30,60,88],3.9:[-68,-18,18,75],3.55:[-80,-40,25,60],3.2:[-72,-10,45],2.65:[-82,-15,30],2.1:[-75,-18,15,78],1.55:[-80,-60,-12,65,85]}
X_CD7_P = {2.6:[-70,-35,55],2.2:[-78,40,72],1.9:[-85,-45,35,65],1.6:[-72,-25,55,80],1.35:[-88,-55,10,68],1.1:[-70,-35,45,80],.85:[-78,-25,30,62],.6:[-70,-40,60]}
X_FCGR3A_P = {2.05:[-82,-48,42],1.72:[-72,-38,52,80],1.45:[-85,-60,-12,55,82],1.22:[-72,-45,30,68],1.0:[-88,-55,-22,40,72],.78:[-75,-42,48,85],.55:[-82,-30,62]}
X_FCGR3A_N = {2.42:[-72,-50,40,62],2.12:[-80,-42,48,78],1.82:[-70,-38,62,88],1.55:[-88,-62,-25,40,72],1.28:[-72,-45,48,80],1.05:[-82,-55,60,88],.82:[-72,-40,42,68]}
X_HLAA_P = {3.92:[-78,-40,10,60,85],3.74:[-85,-62,-25,18,40,78],3.7:[-95,-45,0,60,92],3.66:[-78,-15,35,72],3.52:[-88,-60,-35,10,55,78,95],3.48:[-70,-18,32,88],3.44:[-92,-48,-5,50,72],3.3:[-80,-55,-28,5,35,62,85],3.25:[-68,-12,45,92],3.1:[-92,-48,-20,15,62,75],3.05:[-72,-30,35,85],2.85:[-80,-42,-15,22,55],2.78:[-65,5,70,90],2.55:[-78,-50,-12,40,72],2.3:[-88,-65,-35,25,62]}
X_HLAA_N = {3.75:[-78,-42,-5,52,85],3.65:[-60,-25,25,88],3.45:[-85,-55,-28,5,48,78],3.2:[-80,-52,-28,0,22,45,72,92],3.13:[-92,-62,-10,35,85],2.95:[-85,-55,-30,-5,20,48,70],2.88:[-72,5,32,60,92],2.72:[-92,-50,-25,28,52,80],2.65:[-75,-8,68,88],2.45:[-82,-45,-12,40,72],2.4:[-65,15,88],2.15:[-90,-40,-5,35,78],1.95:[-78,-48,45,85],1.65:[-80,-30,70]}
X_TYROBP_P = {3.5:[-72,-30,38,75],3.3:[-82,-58,-12,32,60,85],3.25:[-95,-38,8,72],3.08:[-85,-55,-28,15,45,90],3.02:[-72,-8,62,82],2.88:[-95,-50,-22,28,52,75],2.82:[-75,-2,40,92],2.68:[-90,-45,-15,15,50,72],2.62:[-70,32,85],2.42:[-78,-48,-12,40,68,90],2.18:[-88,-40,-5,30,60],1.92:[-72,-38,20,50,78],1.6:[-92,-52,-28,30,68],1.25:[-80,-42,52]}
X_TYROBP_N = {3.75:[-72,-25,30,55,82],3.55:[-80,-52,-30,5,30,72,90],3.5:[-62,-10,48],3.3:[-95,-78,-55,-32,-5,22,48,72,92],3.25:[-62,-15,32,58],3.1:[-88,-58,-30,-2,42,65,85],3.05:[-72,15,30,90],2.9:[-92,-50,-20,35,60,80],2.85:[-75,5,48,92],2.65:[-85,-62,-35,15,45,88],2.4:[-90,-70,-30,8,60,78],2.15:[-85,-65,45,75]}

def dots(pairs, extra=None):
    out = list(pairs)
    for y, xs in (extra or {}).items():
        out += [(x, y) for x in xs]
    return np.array(out, float)

# ---------------- layout helpers ----------------
W, H = 1187, 2100
fig = plt.figure(figsize=(W/100, H/100), dpi=100, facecolor='white')

def ax_px(l, t, r, b):
    return fig.add_axes([l/W, 1-b/H, (r-l)/W, (b-t)/H])

def txt(x, y, s, **kw):
    kw.setdefault('ha', 'center'); kw.setdefault('va', 'center'); kw.setdefault('color', 'black')
    return fig.text(x/W, 1-y/H, s, **kw)

def line_px(xs, ys, **kw):
    fig.add_artist(Line2D([x/W for x in xs], [1-y/H for y in ys], transform=fig.transFigure, **kw))

def rect_px(l, t, r, b, color):
    fig.add_artist(Rectangle((l/W, 1-b/H), (r-l)/W, (b-t)/H, transform=fig.transFigure, facecolor=color, edgecolor='none'))

def up_arrow(x, y_tail, y_tip, head_w, head_l):
    line_px([x, x], [y_tail, y_tip], color='black', lw=1.6)
    line_px([x-head_w, x, x+head_w], [y_tip+head_l, y_tip, y_tip+head_l], color='black', lw=1.6)

# ---------------- Panel A ----------------
YEL_LINE, BLU_LINE, GRAY_EDGE = '#b2b000', '#0b4fa6', '#7d7d7d'
hist_specs = [
    ('CD56', CD56_gray, CD56_yel, CD56_blu, (60.5,38,274,237.5), BIEX_TICKS, BIEX_LABELS, (156,269.5), '#a9a9a9'),
    ('CD94', CD94_gray, CD94_yel, CD94_blu, (330,38,543,237.5), BIEX_TICKS, BIEX_LABELS, (413,271), '#a9a9a9'),
    ('CD335', CD335_gray, CD335_yel, CD335_blu, (60,285,273,484), LOG_TICKS, LOG_LABELS, (162,509), '#a9a9a9'),
    ('CD336', CD336_gray, CD336_yel, CD336_blu, (330,285,543,484), LOG_TICKS, LOG_LABELS, (409,509), '#a9a9a9'),
    ('CD337', CD337_gray, CD337_yel, CD337_blu, (60,526,273,726), LOG_TICKS, LOG_LABELS, (164,752), '#a9a9a9'),
    ('CD244', CD244_gray, CD244_yel, CD244_blu, (331,526,544,726), LOG_TICKS, LOG_LABELS, (420,751), '#cfcfcf'),
]
for name, g, y, b, box, ticks, labels, lab, gfill in hist_specs:
    ax = ax_px(*box)
    ax.plot(b[0], b[1], color=BLU_LINE, lw=2.0, solid_joinstyle='round', zorder=2)
    ax.plot(y[0], y[1], color=YEL_LINE, lw=2.2, solid_joinstyle='round', zorder=3)
    ax.fill_between(g[0], g[1], 0, color=gfill, alpha=.88, lw=0, zorder=4)
    ax.plot(g[0], g[1], color=GRAY_EDGE, lw=2.1, zorder=5)
    ax.set_xlim(0, 1000); ax.set_ylim(0, 100)
    ax.set_xticks(ticks); ax.set_xticklabels(labels, fontsize=4.2, color='#333333')
    ax.set_yticks(range(0, 101, 10)); ax.set_yticklabels([])
    ax.tick_params(axis='x', length=2, width=.6, pad=3.5)
    ax.tick_params(axis='y', length=1.2, width=.4, direction='in', color='#888888')
    for s in ('top', 'right', 'left'):
        ax.spines[s].set_color('#707070'); ax.spines[s].set_linewidth(.8)
    ax.spines['bottom'].set_color('#222222'); ax.spines['bottom'].set_linewidth(1)
    txt(lab[0], lab[1], name, fontsize=17, fontweight='bold')

txt(22, 10, 'A', fontsize=15, fontweight='bold')
up_arrow(27.5, 555, 451, 11.5, 19)
txt(27, 675, 'Cell Count', rotation=90, fontsize=16.8, fontweight='bold')

# ---------------- Panel B ----------------
ax = ax_px(61, 790, 287, 1016)
ax.bar([1, 2], BAR_MEAN, width=.66, color=['#bfbf00', '#0071a7'], zorder=2)
for i, (m, u) in enumerate(zip(BAR_MEAN, BAR_UPPER)):
    ax.errorbar([i+1], [m], yerr=[[0], [u-m]], color='black', lw=1.4, capsize=9.5, capthick=1.4, zorder=1)
ax.plot([.96, 2.05], [44.7, 44.7], color='black', lw=1.4)
ax.text(1.55, 48.3, BAR_P, ha='center', va='center', fontsize=14, fontweight='bold')
ax.set_xlim(.326, 2.668); ax.set_ylim(0, 50)
ax.set_yticks(range(0, 51, 10)); ax.set_xticks([1, 2]); ax.set_xticklabels([])
ax.tick_params(axis='y', labelsize=11, length=6, width=1.5, pad=2)
ax.tick_params(axis='x', length=6, width=1.5)
for s in ('top', 'right'):
    ax.spines[s].set_visible(False)
for s in ('left', 'bottom'):
    ax.spines[s].set_linewidth(1.5)
txt(126, 1049, BAR_LABELS[0], fontsize=15.5, linespacing=1.05)
txt(222, 1049, BAR_LABELS[1], fontsize=15.5, linespacing=1.05)
txt(16, 900, 'CD107a$^{+}$ Cells (% )', rotation=90, fontsize=15)
txt(22, 776, 'B', fontsize=15.5)

rect_px(329, 836, 371.5, 853, '#808080')
rect_px(329, 905, 371, 909, '#cfc800')
rect_px(329, 975, 371, 979, '#2e5a96')
leg = dict(ha='left', fontsize=17, fontweight='bold')
txt(405, 845, 'Isotype control', **leg)
txt(405, 893, 'CD48$^{\\mathbf{+}}$-derived', **leg)
txt(405, 923, 'NK cells', **leg)
txt(405, 963, 'CD48$^{\\text{-}}$-derived', **leg)
txt(405, 991, 'NK cells', **leg)

# ---------------- Panel C ----------------
HM_L, HM_T, HM_R, HM_B = 56, 1145, 984, 2100
ROW = (HM_B-HM_T)/len(EXPR_POS)
ax = ax_px(HM_L, HM_T, HM_R, HM_B)
M = np.column_stack([EXPR_POS, EXPR_NEG])
xe = np.concatenate([[0], np.cumsum(GROUP_CELLS)])
ye = np.arange(M.shape[0]+1)
VMAX = 7.7
ax.pcolormesh(xe, ye, M, cmap='GnBu_r', vmin=0, vmax=VMAX, rasterized=True)
ax.set_ylim(M.shape[0], 0); ax.axis('off')

split = HM_L + (HM_R-HM_L)*GROUP_CELLS[0]/sum(GROUP_CELLS)
rect_px(HM_L, 1133, split, 1143, '#cfc800')
rect_px(split, 1134, HM_R, 1143, '#3a6196')
txt(311, 1116, GROUP_NAMES[0], fontsize=17, fontweight='bold')
txt(777, 1116, GROUP_NAMES[1], fontsize=17, fontweight='bold')
txt(24, 1118, 'C', fontsize=15, fontweight='bold')

for i, g in enumerate(GENES_LEFT):
    txt(988, HM_T+(2*i+.5)*ROW, g, ha='left', family='DejaVu Sans', fontsize=8.9, fontweight='bold')
for i, g in enumerate(GENES_RIGHT):
    yy = HM_T+(2*i+1.5)*ROW
    txt(1076, yy, g, ha='left', family='DejaVu Sans', fontsize=8.9, fontweight='bold')
    line_px([HM_R, 1075], [yy, yy], color='black', lw=1.4)

cax = ax_px(19, 1413, 33, 1623)
cax.imshow(np.linspace(VMAX, 0, 256)[:, None], aspect='auto', cmap='GnBu_r', vmin=0, vmax=VMAX, extent=[0, 1, 0, VMAX])
cax.set_xticks([]); cax.yaxis.tick_right(); cax.set_yticks(CBAR_TICKS)
cax.tick_params(axis='y', length=0, labelsize=10, pad=4)
for s in cax.spines.values():
    s.set_visible(False)
txt(27, 1783, 'Expression\n(natural log)', rotation=90, fontsize=16.7, fontweight='bold', linespacing=1.15)

# ---------------- Panel D ----------------
VIOL_Y, VIOL_B = '#FFFF33', '#0A7CBA'
WIDTH = .448
violin_specs = [
    # title, outlines, dots, p value, y ticks, box, pixel of lowest/highest tick, title xy, p xy
    ('KLRC1', V_KLRC1_P, V_KLRC1_N, dots(P_KLRC1_P, X_KLRC1_P), dots(P_KLRC1_N, X_KLRC1_N), '4.3x10$^{\\text{-33}}$', [0,1,2,3,4], (728,40,906,247), (238,56.5), (817,39), (804,265)),
    ('TNFSF14', V_TNFSF14_P, V_TNFSF14_N, dots(P_TNFSF14_P, X_TNFSF14_P), dots(P_TNFSF14_N, X_TNFSF14_N), '1.1x10$^{\\text{-13}}$', [0,1,2], (976,40,1154,247), (237,98.4), (1040.5,39), (1052,265)),
    ('GZMB', V_GZMB_P, V_GZMB_N, dots(P_GZMB_P, X_GZMB_P), dots(P_GZMB_N, X_GZMB_N), '4.8x10$^{\\text{-45}}$', [0,2,4,6], (729,288,907,495), (485.7,296.6), (814,293), (807,515)),
    ('CCL5', V_CCL5_P, V_CCL5_N, dots(P_CCL5_P, X_CCL5_P), dots(P_CCL5_N, X_CCL5_N), '6.2x10$^{\\text{-07}}$', [0,2,4,6], (974,288,1152,495.5), (486,321), (1020,293), (1056,515)),
    ('CD7', V_CD7_P, V_CD7_N, dots(P_CD7_P, X_CD7_P), dots(P_CD7_N), '1.7x10$^{\\text{-21}}$', [0,1,2,3,4], (727,540,906,748.6), (739,549.6), (800.5,548), (801.5,767.5)),
    ('FCGR3A', V_FCGR3A_P, V_FCGR3A_N, dots(P_FCGR3A_P, X_FCGR3A_P), dots(P_FCGR3A_N, X_FCGR3A_N), '1.9x10$^{\\text{-19}}$', [0,1,2,3], (977.4,540,1155,748.6), (739,589.6), (1036,548), (1053.5,770)),
    ('HLA-A', V_HLAA_P, V_HLAA_N, dots(P_HLAA_P, X_HLAA_P), dots(P_HLAA_N, X_HLAA_N), '8.7x10$^{\\text{-13}}$', [0,1,2,3,4], (727,790,906,998), (989,821), (815.5,801), (804,1017.5)),
    ('TYROBP', V_TYROBP_P, V_TYROBP_N, dots(P_TYROBP_P, X_TYROBP_P), dots(P_TYROBP_N, X_TYROBP_N), '3.1x10$^{\\text{-18}}$', [0,1,2,3,4], (978.5,790,1157,998), (988,828), (1038,801), (1043.7,1016)),
]
for name, vp, vn, dp, dn, pval, yt, box, tickpx, tpos, ppos in violin_specs:
    ax = ax_px(*box)
    for pos, v, dd, col in ((1, vp, dp, VIOL_Y), (2, vn, dn, VIOL_B)):
        yy = np.array(v[0], float); ww = np.array(v[1], float)*WIDTH
        ax.fill(np.r_[pos-ww, (pos+ww)[::-1]], np.r_[yy, yy[::-1]], facecolor=col, edgecolor='#3c3c3c', lw=1.0, zorder=2)
        ax.scatter(pos + dd[:, 0]/100*WIDTH, dd[:, 1], s=4.6, color='black', lw=0, zorder=3, clip_on=False)
    unit = (tickpx[0]-tickpx[1])/yt[-1]
    ax.set_xlim(.4, 2.6)
    ax.set_ylim(-(box[3]-tickpx[0])/unit, (tickpx[0]-box[1])/unit)
    ax.set_xticks([1, 2]); ax.set_xticklabels([]); ax.set_yticks(yt)
    ax.tick_params(axis='both', length=4, width=1.1)
    ax.tick_params(axis='y', labelsize=14, pad=3, labelcolor='#222222')
    for s in ('top', 'right'):
        ax.spines[s].set_visible(False)
    for s in ('left', 'bottom'):
        ax.spines[s].set_linewidth(1.3)
    txt(tpos[0], tpos[1], name, fontsize=17, fontweight='bold', zorder=10)
    txt(ppos[0], ppos[1], pval, fontsize=16, color='#222222')

txt(665, 10, 'D', fontsize=15, fontweight='bold')
up_arrow(661, 495, 390, 11, 19)
txt(661.6, 782, 'Log2 expression (transcript copy/cell)', rotation=90, fontsize=17, fontweight='bold')
rect_px(690.6, 1049, 733.5, 1067, '#ccc800')
rect_px(934, 1053, 977, 1070, '#3a6095')
txt(733.5, 1058.6, 'CD48$^{\\mathbf{+}}$-derived', ha='left', fontsize=17, fontweight='bold')
txt(978, 1061, 'CD48$^{\\text{-}}$-derived', ha='left', fontsize=17, fontweight='bold')

fig.savefig('out.png', dpi=100, facecolor='white')
